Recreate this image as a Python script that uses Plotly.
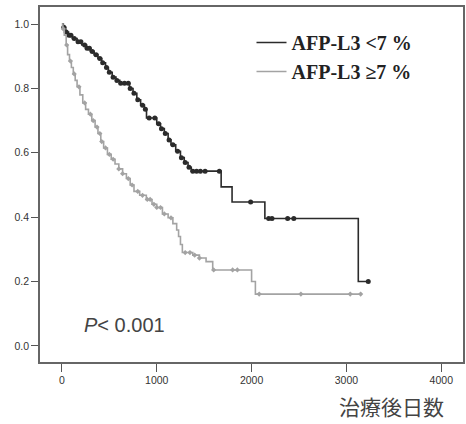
import numpy as np
import plotly.graph_objects as go

# ---- data ----
low_times = [0, 15, 40, 70, 110, 160, 210, 260, 300, 340, 380, 420, 460, 490, 530, 570, 610,
             713, 750, 790, 830, 870, 892, 1000, 1040, 1080, 1120, 1150, 1200, 1250, 1290,
             1330, 1364, 1679, 1794, 2140, 3125]
low_surv = [1.0, 0.99, 0.975, 0.965, 0.955, 0.945, 0.935, 0.925, 0.915, 0.905, 0.893, 0.88,
            0.865, 0.85, 0.835, 0.825, 0.816, 0.80, 0.785, 0.765, 0.748, 0.735, 0.708, 0.69,
            0.675, 0.66, 0.64, 0.625, 0.605, 0.585, 0.57, 0.555, 0.543, 0.494, 0.447, 0.396,
            0.20]
low_end = 3230
low_censor = [20, 45, 75, 95, 130, 170, 200, 240, 265, 290, 320, 360, 400, 430, 470, 500,
              540, 580, 620, 660, 700, 720, 760, 800, 850, 880, 920, 980, 1020, 1050, 1090,
              1130, 1170, 1220, 1260, 1300, 1340, 1380, 1420, 1460, 1510, 1660, 1990, 2180,
              2215, 2380, 2445, 3230]

high_times = [0, 10, 25, 45, 60, 80, 100, 120, 140, 160, 190, 220, 250, 280, 315, 350, 380,
              410, 440, 480, 520, 560, 600, 640, 680, 720, 760, 820, 890, 950, 1000, 1060,
              1120, 1170, 1210, 1230, 1250, 1270, 1380, 1450, 1520, 1590, 2000, 2040]
high_surv = [1.0, 0.985, 0.965, 0.935, 0.905, 0.885, 0.865, 0.845, 0.825, 0.805, 0.78, 0.755,
             0.735, 0.72, 0.70, 0.68, 0.66, 0.635, 0.615, 0.595, 0.58, 0.565, 0.55, 0.535,
             0.52, 0.50, 0.48, 0.468, 0.455, 0.44, 0.43, 0.41, 0.398, 0.38, 0.36, 0.34, 0.315,
             0.29, 0.282, 0.273, 0.262, 0.236, 0.20, 0.161]
high_end = 3150
high_censor = [15, 50, 90, 130, 180, 240, 300, 330, 370, 400, 420, 460, 500, 540, 600, 640,
               700, 740, 800, 850, 900, 930, 970, 1000, 1040, 1080, 1150, 1300, 1350, 1400,
               1450, 1600, 1800, 1850, 2080, 2520, 3040, 3150]

x_ticks = [0, 1000, 2000, 3000, 4000]
y_ticks = [0.0, 0.2, 0.4, 0.6, 0.8, 1.0]
names = ["AFP-L3 <7 %", "AFP-L3 ≥7 %"]
x_title = "治療後日数"
p_text = "<i>P</i>< 0.001"


def surv_at(times, surv, t):
    idx = np.searchsorted(np.array(times), np.array(t), side="right") - 1
    return np.array(surv)[idx]


fig = go.Figure()
series = [
    (low_times, low_surv, low_end, low_censor, "#2b2b2b", "circle", 5, names[0]),
    (high_times, high_surv, high_end, high_censor, "#a3a3a3", "diamond", 4, names[1]),
]
for times, surv, end, cens, col, sym, msz, name in series:
    fig.add_trace(go.Scatter(
        x=list(times) + [end], y=list(surv) + [surv[-1]],
        mode="lines", line=dict(color=col, width=1.6, shape="hv"),
        name=name, showlegend=True))
    fig.add_trace(go.Scatter(
        x=cens, y=surv_at(times, surv, cens), mode="markers",
        marker=dict(symbol=sym, size=msz, color=col), showlegend=False, hoverinfo="skip"))

fig.update_layout(
    width=466, height=424,
    margin=dict(l=40, r=1, t=7, b=62),
    paper_bgcolor="white", plot_bgcolor="white",
    font=dict(family="Liberation Sans", color="#333"),
    legend=dict(x=0.50, y=0.955, xanchor="left", yanchor="top",
                bgcolor="rgba(0,0,0,0)", borderwidth=0,
                font=dict(family="Liberation Serif", size=20, color="#222", weight="bold"),
                tracegroupgap=0),
    xaxis=dict(range=[-231, 4229], tickvals=x_ticks, ticks="outside", ticklen=8,
               tickwidth=1.2, tickcolor="#555", showgrid=False, zeroline=False,
               showline=True, linecolor="#666", linewidth=1.5, mirror=True,
               tickfont=dict(size=10.5, color="#333")),
    yaxis=dict(range=[-0.05, 1.053], tickvals=y_ticks, tickformat=".1f", ticks="outside",
               ticklen=7, tickwidth=1.2, tickcolor="#555", showgrid=False, zeroline=False,
               showline=True, linecolor="#666", linewidth=1.5, mirror=True,
               tickfont=dict(size=10.5, color="#333")),
    annotations=[
        dict(text=p_text, xref="paper", yref="paper", x=0.099, y=0.104,
             xanchor="left", yanchor="middle", showarrow=False,
             font=dict(family="Liberation Sans", size=20, color="#444")),
        dict(text=x_title, xref="paper", yref="paper", x=0.96, y=-0.125,
             xanchor="right", yanchor="middle", showarrow=False,
             font=dict(family="Noto Sans CJK JP", size=21, color="#444")),
    ],
)

fig.write_html("out.html")
